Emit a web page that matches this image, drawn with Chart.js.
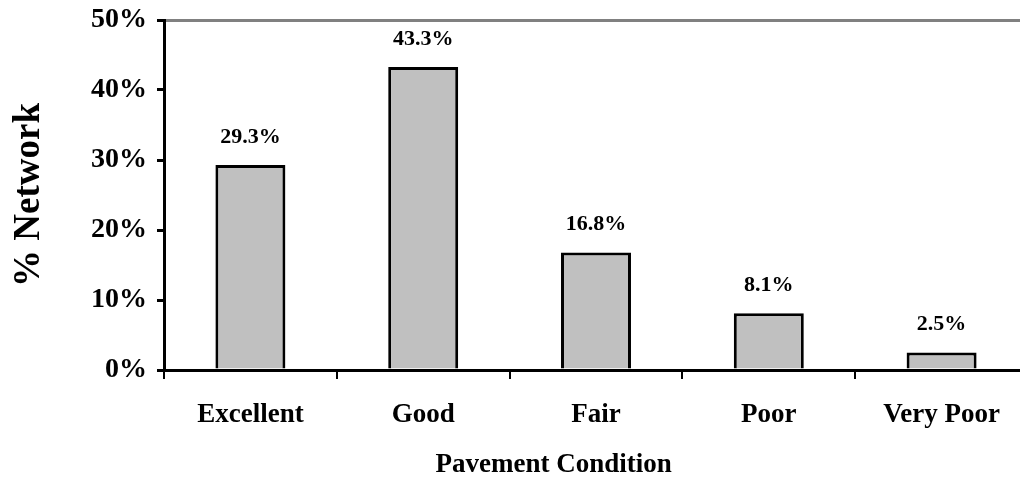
<!DOCTYPE html>
<html>
<head>
<meta charset="utf-8">
<script src="https://cdn.jsdelivr.net/npm/chart.js@4/dist/chart.umd.min.js"></script>
<style>
  html, body { margin: 0; padding: 0; background: #fff; overflow: hidden; }
  canvas { display: block; }
</style>
</head>
<body>
<canvas id="chart" width="1030" height="484"></canvas>
<script>
const categories = ['Excellent', 'Good', 'Fair', 'Poor', 'Very Poor'];
const networkShare = [29.3, 43.3, 16.8, 8.1, 2.5];
const yTicks = [0, 10, 20, 30, 40, 50];

const serif = "'Liberation Serif', 'Times New Roman', serif";

// value labels above bars + x axis title
const barLabels = {
  id: 'barLabels',
  afterDatasetsDraw(chart) {
    const ctx = chart.ctx;
    const meta = chart.getDatasetMeta(0);
    ctx.save();
    ctx.font = 'bold 22px ' + serif;
    ctx.fillStyle = '#000';
    ctx.textAlign = 'center';
    ctx.textBaseline = 'middle';
    meta.data.forEach((bar, i) => {
      ctx.fillText(networkShare[i].toFixed(1) + '%', bar.x, bar.y - 28);
    });
    const area = chart.chartArea;
    ctx.font = 'bold 27px ' + serif;
    ctx.fillText('Pavement Condition', area.left + (area.right - area.left) * 0.451, 465);
    ctx.restore();
  },
};

const chart = new Chart(document.getElementById('chart'), {
  type: 'bar',
  data: {
    labels: categories,
    datasets: [
      {
        data: networkShare,
        backgroundColor: '#C0C0C0',
        borderColor: '#000',
        borderWidth: 3,
        categoryPercentage: 1,
        barPercentage: 0.405,
      },
    ],
  },
  plugins: [barLabels],
  options: {
    responsive: false,
    animation: false,
    devicePixelRatio: 1,
    layout: { padding: { top: 20, right: 2, left: 0, bottom: 0 } },
    plugins: {
      legend: { display: false },
      tooltip: { enabled: false },
    },
    scales: {
      x: {
        grid: {
          offset: true,
          drawOnChartArea: false,
          color: '#000',
          lineWidth: 2,
          tickLength: 9,
        },
        border: { color: '#000', width: 3 },
        ticks: {
          color: '#000',
          font: { family: serif, size: 27, weight: 'bold' },
          padding: 20,
          maxRotation: 0,
        },
        afterFit: (scale) => {
          scale.height = 114;
          scale.paddingLeft = 0;
          scale.paddingRight = 0;
        },
      },
      y: {
        min: 0,
        max: 50,
        afterBuildTicks: (scale) => {
          scale.ticks = yTicks.map((v) => ({ value: v }));
        },
        grid: {
          color: (c) => (c.tick && c.tick.value === 50 ? '#808080' : 'rgba(0,0,0,0)'),
          tickColor: '#000',
          lineWidth: 3,
          tickLength: 7,
        },
        border: { color: '#000', width: 3 },
        ticks: {
          color: '#000',
          font: { family: serif, size: 28, weight: 'bold' },
          padding: 10,
          callback: (v) => v + '%',
        },
        title: {
          display: true,
          text: '% Network',
          color: '#000',
          font: { family: serif, size: 37, weight: 'bold' },
          padding: { top: 7, bottom: 0 },
        },
        afterFit: (scale) => {
          scale.width = 164;
          scale.paddingTop = 0;
          scale.paddingBottom = 0;
        },
      },
    },
  },
});
</script>
</body>
</html>
